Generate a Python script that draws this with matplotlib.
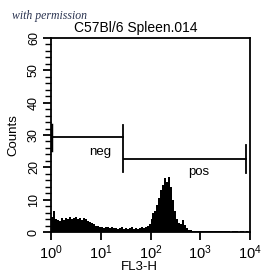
import numpy as np
import matplotlib
matplotlib.use("Agg")
import matplotlib.pyplot as plt
from matplotlib.ticker import LogLocator, MultipleLocator, NullFormatter

# Histogram counts, 100 channels evenly spaced in log10 from 10^0 to 10^4
counts = [
    4.5, 6.5, 4.0,
    3.8, 3.5, 4.2, 3.6, 4.4, 4.0, 4.5, 3.9, 4.3, 4.6, 4.1, 4.4, 3.8, 4.2, 3.9,
    3.5, 3.0, 2.8, 2.4, 2.0,
    1.8, 1.5, 1.7, 1.3, 1.6, 1.4, 1.2, 1.5, 1.1, 1.3, 1.0, 1.2, 1.4, 1.0, 1.1,
    0.9, 1.2, 1.4, 1.0, 1.3, 0.8, 1.1, 1.5, 1.2, 1.6, 1.9, 2.4,
    4.0, 6.0, 6.5, 8.5, 10.5, 13.0, 14.5, 16.8, 15.5, 17.0, 14.0, 10.0, 6.5, 4.0,
    2.8, 2.5, 3.6, 2.2, 1.2, 0.7,
    0.5, 0.4, 0.3, 0.4, 0.3, 0.2, 0.3, 0.3, 0.2, 0.3, 0.2, 0.3, 0.2, 0.2, 0.3,
    0.2, 0.2, 0.3, 0.2, 0.2, 0.1, 0.2, 0.2, 0.2, 0.1, 0.2, 0.2, 0.1, 0.2, 0.1,
]

# Gates
neg_x = [1.0, 28.0]
neg_y = 29.3
pos_x = [28.0, 8500.0]
pos_y = 22.6
gate_labels = ["neg", "pos"]
label_x = [9.7, 944.0]
label_y = [24.7, 18.6]

x_ticks = [1, 10, 100, 1000, 10000]
x_ticklabels = [r"$10^{0}$", r"$10^{1}$", r"$10^{2}$", r"$10^{3}$", r"$10^{4}$"]
y_ticks = [0, 10, 20, 30, 40, 50, 60]

plt.rcParams['font.family'] = ['Liberation Sans', 'DejaVu Sans']
plt.rcParams['mathtext.fontset'] = 'custom'
plt.rcParams['mathtext.rm'] = 'Liberation Sans'
plt.rcParams['mathtext.it'] = 'Liberation Sans'

fig = plt.figure(figsize=(2.72, 2.80), dpi=100)
ax = fig.add_axes([51/272, (280-232)/280, (250-51)/272, (232-38)/280])

edges = 10 ** np.linspace(0, 4, len(counts) + 1)
ax.stairs(counts, edges, fill=True, color='black', linewidth=0)

ax.set_xscale('log')
ax.set_xlim(1, 10000)
ax.set_ylim(0, 60)

# gates
lw = 1.3
ax.plot(neg_x, [neg_y, neg_y], color='black', lw=lw)
ax.plot([neg_x[0], neg_x[0]], [25.5, 33.0], color='black', lw=2.5)
ax.plot([neg_x[1], neg_x[1]], [18.6, 33.0], color='black', lw=lw)
ax.plot([pos_x[0] * 1.05, pos_x[1]], [pos_y, pos_y], color='black', lw=lw)
ax.plot([pos_x[1], pos_x[1]], [18.3, 26.9], color='black', lw=lw)
ax.text(label_x[0], label_y[0], gate_labels[0], ha='center', va='center', fontsize=9.5)
ax.text(label_x[1], label_y[1], gate_labels[1], ha='center', va='center', fontsize=9.5)

ax.set_xticks(x_ticks)
ax.set_xticklabels(x_ticklabels, fontsize=10.5)
ax.xaxis.set_minor_locator(LogLocator(base=10, subs=np.arange(2, 10)))
ax.xaxis.set_minor_formatter(NullFormatter())
ax.set_yticks(y_ticks)
ax.set_yticklabels([str(v) for v in y_ticks], fontsize=9, rotation=90, va='center')
ax.yaxis.set_minor_locator(MultipleLocator(2))

ax.tick_params(axis='both', which='major', direction='out', length=6, width=1.3, pad=2)
ax.tick_params(axis='both', which='minor', direction='out', length=4, width=1.0)
ax.tick_params(top=False, right=False, which='both')
for s in ax.spines.values():
    s.set_linewidth(1.3)

fig.text(136/272, 1 - 28/280, "C57Bl/6 Spleen.014", ha='center', va='center', fontsize=10)
fig.text(139/272, 1 - 267/280, "FL3-H", ha='center', va='center', fontsize=9.5)
fig.text(13/272, 1 - 135/280, "Counts", ha='center', va='center', fontsize=9.5, rotation=90)
fig.text(12/272, 1 - 16/280, "with permission", ha='left', va='center', fontsize=8.5,
         family=['Liberation Serif', 'DejaVu Serif'], style='italic', color='#2a3350')

fig.savefig("out.png", dpi=100)
